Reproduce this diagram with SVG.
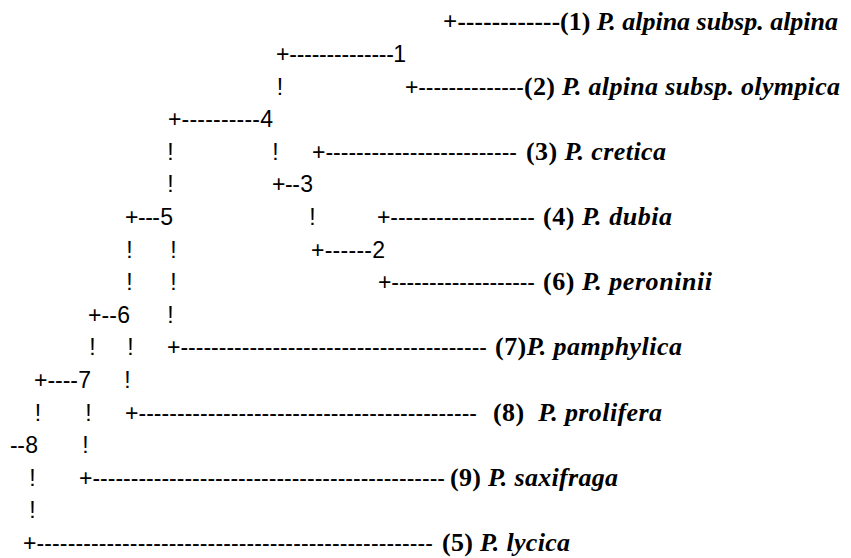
<svg xmlns="http://www.w3.org/2000/svg" width="851" height="558" viewBox="0 0 851 558">
<style>
.s{font-family:"Liberation Sans",Arial,sans-serif;font-size:23px;fill:#000}
.b{font-family:"Liberation Serif","Times New Roman",serif;font-size:25px;font-weight:bold;fill:#000}
.m{text-anchor:middle}
.n{text-anchor:end}
.l{font-family:"Liberation Serif","Times New Roman",serif;font-size:26px;font-weight:bold;fill:#000}
.i{font-style:italic}
</style>
<rect width="851" height="558" fill="#fff"/>
<g id="connectors">
<text class="b" x="443" y="30" textLength="117" lengthAdjust="spacing">+------------</text>
<text class="s" x="276" y="62" textLength="118" lengthAdjust="spacing">+--------------</text>
<text class="s m" x="280" y="94.6">!</text>
<text class="s" x="405" y="94.6" textLength="119" lengthAdjust="spacing">+--------------</text>
<text class="s" x="168" y="127.2" textLength="92" lengthAdjust="spacing">+----------</text>
<text class="s m" x="170.5" y="159.8">!</text>
<text class="s m" x="275.5" y="159.8">!</text>
<text class="s" x="312" y="159.8" textLength="205" lengthAdjust="spacing">+-------------------------</text>
<text class="s m" x="170.5" y="192.4">!</text>
<text class="s" x="272" y="192.4" textLength="28" lengthAdjust="spacing">+--</text>
<text class="s" x="125" y="225" textLength="35" lengthAdjust="spacing">+---</text>
<text class="s m" x="312.5" y="225">!</text>
<text class="s" x="377" y="225" textLength="158" lengthAdjust="spacing">+-------------------</text>
<text class="s m" x="129.5" y="257.6">!</text>
<text class="s m" x="173.5" y="257.6">!</text>
<text class="s" x="311" y="257.6" textLength="61" lengthAdjust="spacing">+------</text>
<text class="s m" x="129.5" y="290.2">!</text>
<text class="s m" x="173.5" y="290.2">!</text>
<text class="s" x="378" y="290.2" textLength="157" lengthAdjust="spacing">+-------------------</text>
<text class="s" x="88" y="322.8" textLength="29" lengthAdjust="spacing">+--</text>
<text class="s m" x="170.5" y="322.8">!</text>
<text class="s m" x="92.5" y="355.4">!</text>
<text class="s m" x="130.5" y="355.4">!</text>
<text class="s" x="167" y="355.4" textLength="320" lengthAdjust="spacing">+----------------------------------------</text>
<text class="s" x="34" y="388" textLength="44" lengthAdjust="spacing">+----</text>
<text class="s m" x="127.5" y="388">!</text>
<text class="s m" x="38" y="420.6">!</text>
<text class="s m" x="88.5" y="420.6">!</text>
<text class="s" x="125" y="420.6" textLength="352" lengthAdjust="spacing">+--------------------------------------------</text>
<text class="s" x="10" y="453.2" textLength="15" lengthAdjust="spacing">--</text>
<text class="s m" x="85.5" y="453.2">!</text>
<text class="s m" x="32.5" y="485.8">!</text>
<text class="s" x="79" y="485.8" textLength="366" lengthAdjust="spacing">+----------------------------------------------</text>
<text class="s m" x="32.5" y="518.4">!</text>
<text class="s" x="23" y="551" textLength="410" lengthAdjust="spacing">+---------------------------------------------------</text>
</g>
<g id="node-1"><text class="s n" x="406" y="62">1</text></g>
<g id="node-2"><text class="s n" x="385" y="257.6">2</text></g>
<g id="node-3"><text class="s n" x="313" y="192.4">3</text></g>
<g id="node-4"><text class="s n" x="273" y="127.2">4</text></g>
<g id="node-5"><text class="s n" x="173" y="225">5</text></g>
<g id="node-6"><text class="s n" x="130" y="322.8">6</text></g>
<g id="node-7"><text class="s n" x="91" y="388">7</text></g>
<g id="node-8"><text class="s n" x="38" y="453.2">8</text></g>
<g id="leaf-1"><text class="l" x="560" y="30" textLength="278" lengthAdjust="spacing">(1) <tspan class="i">P. alpina subsp. alpina</tspan></text></g>
<g id="leaf-2"><text class="l" x="524" y="94.6" textLength="316" lengthAdjust="spacing">(2) <tspan class="i">P. alpina subsp. olympica</tspan></text></g>
<g id="leaf-3"><text class="l" x="526" y="159.8" textLength="140" lengthAdjust="spacing">(3) <tspan class="i">P. cretica</tspan></text></g>
<g id="leaf-4"><text class="l" x="543" y="225" textLength="129" lengthAdjust="spacing">(4) <tspan class="i">P. dubia</tspan></text></g>
<g id="leaf-6"><text class="l" x="543" y="290.2" textLength="169" lengthAdjust="spacing">(6) <tspan class="i">P. peroninii</tspan></text></g>
<g id="leaf-7"><text class="l" x="495" y="355.4" textLength="187" lengthAdjust="spacing">(7)<tspan class="i">P. pamphylica</tspan></text></g>
<g id="leaf-8"><text class="l" x="493" y="420.6" textLength="169" lengthAdjust="spacing" xml:space="preserve">(8)  <tspan class="i">P. prolifera</tspan></text></g>
<g id="leaf-9"><text class="l" x="450" y="485.8" textLength="168" lengthAdjust="spacing">(9) <tspan class="i">P. saxifraga</tspan></text></g>
<g id="leaf-5"><text class="l" x="442" y="551" textLength="128" lengthAdjust="spacing">(5) <tspan class="i">P. lycica</tspan></text></g>
</svg>
